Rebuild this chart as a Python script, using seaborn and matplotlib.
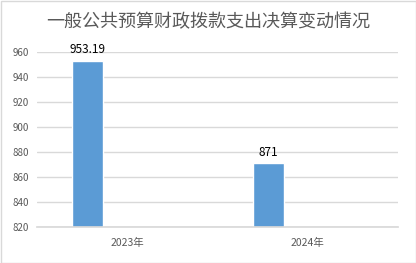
import matplotlib
matplotlib.use("Agg")
import matplotlib.pyplot as plt
import seaborn as sns
import pandas as pd
import numpy as np
from matplotlib.patches import Rectangle

title = "一般公共预算财政拨款支出决算变动情况"
years = ["2023年", "2024年"]
values = [953.19, 871]
value_labels = ["953.19", "871"]
series_names = ["决算数", "空"]
empty_series = [np.nan, np.nan]
yticks = [820, 840, 860, 880, 900, 920, 940, 960]

sns.set_theme(style="white")
plt.rcParams['font.family'] = ['Noto Sans CJK SC', 'DejaVu Sans']

df = pd.DataFrame({
    "year": years * 2,
    "value": values + empty_series,
    "series": [series_names[0]] * 2 + [series_names[1]] * 2,
})

fig = plt.figure(figsize=(4.16, 2.63), dpi=100)
ax = fig.add_axes([37/416, 1-227/263, (398-37)/416, (227-52)/263])

sns.barplot(data=df, x="year", y="value", hue="series", ax=ax,
            palette=["#5b9bd5", "#ed7d31"], width=0.88, gap=0.61,
            legend=False, bottom=0, saturation=1)

# bars start at axis min
ax.set_ylim(820, 960)
for p in ax.patches:
    pass

ax.set_yticks(yticks)
ax.set_yticklabels([str(t) for t in yticks], color="#595959", fontsize=7)
ax.tick_params(axis="x", colors="#595959", labelsize=7.5, length=0, pad=8)
ax.tick_params(axis="y", length=0, pad=6)
ax.set_xlabel("")
ax.set_ylabel("")
ax.yaxis.grid(True, color="#d9d9d9", linewidth=1)
ax.set_axisbelow(True)
for s in ["top", "right", "left"]:
    ax.spines[s].set_visible(False)
ax.spines["bottom"].set_color("#d9d9d9")

container = ax.containers[0]
ax.bar_label(container, labels=value_labels, padding=3, fontsize=8.5, color="#000000")

fig.text(0.5, 1-22/263, title, ha="center", va="center", fontsize=13, color="#595959")
fig.patches.append(Rectangle((0.5/416, 0.5/263), 1-1/416, 1-1/263, transform=fig.transFigure,
                             fill=False, edgecolor="#d9d9d9", linewidth=1))

fig.savefig("out.png", dpi=100)
